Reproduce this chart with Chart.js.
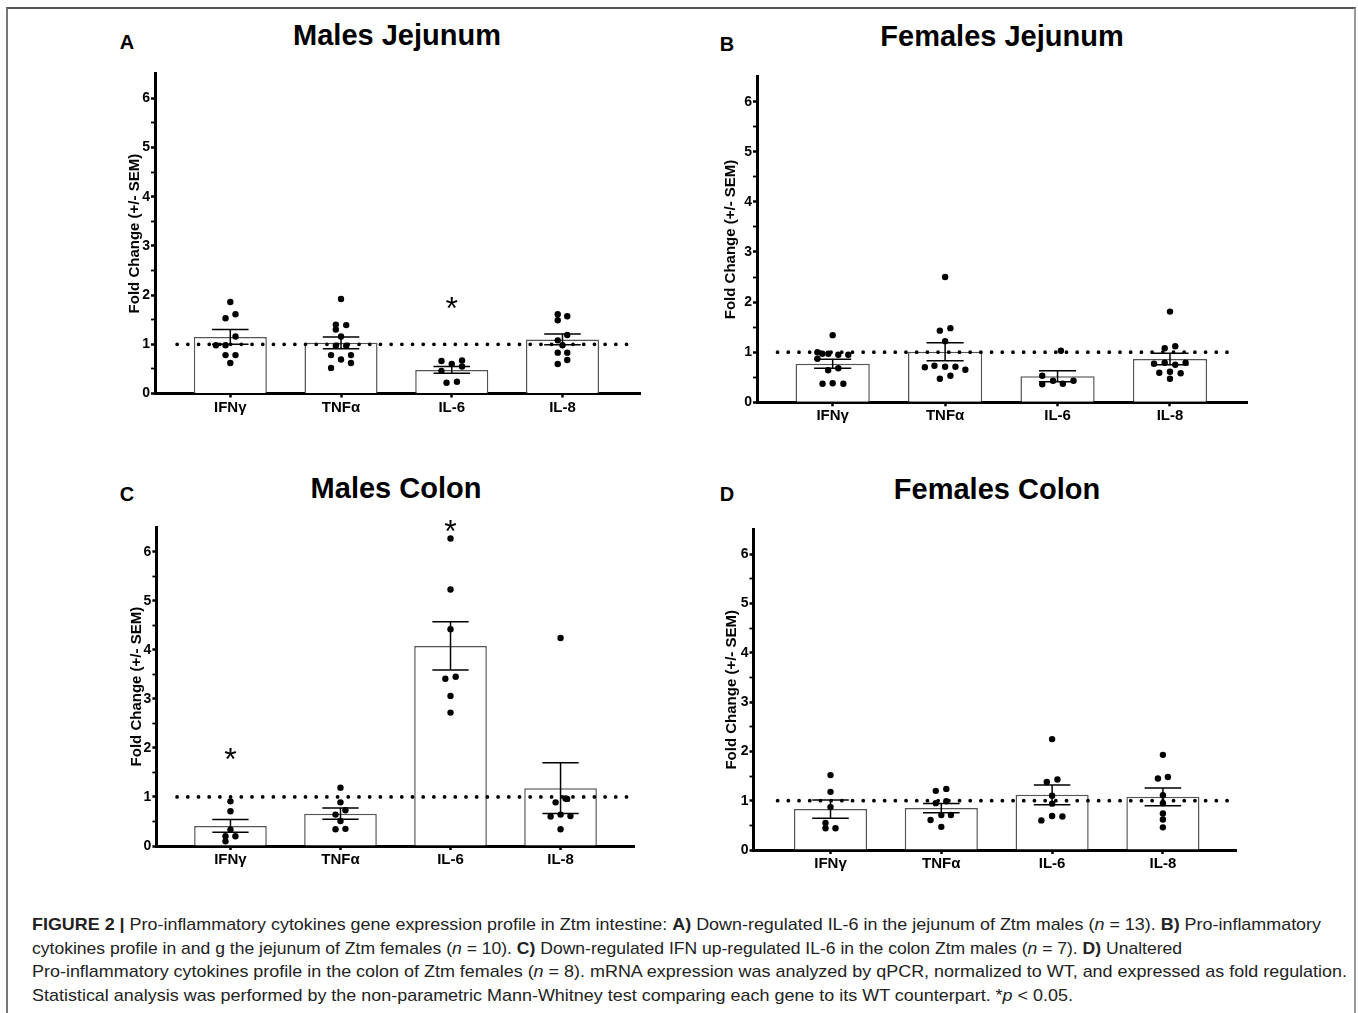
<!DOCTYPE html>
<html>
<head>
<meta charset="utf-8">
<title>Figure 2</title>
<script src="https://cdn.jsdelivr.net/npm/chart.js@4.4.0/dist/chart.umd.min.js"></script>
<style>
  body { margin: 0; background: #fff; width: 1358px; height: 1013px; overflow: hidden; position: relative;
         font-family: "Liberation Sans", Arial, sans-serif; }
  .frame { position: absolute; left: 6px; top: 7px; width: 1346px; height: 1030px;
           border-top: 2px solid #555; border-left: 2px solid #777; border-right: 2px solid #999; }
  canvas { position: absolute; }
  .title { position: absolute; font-size: 29px; line-height: 29px; font-weight: bold; white-space: nowrap;
           transform: translateX(-50%); color: #000; }
  .letter { position: absolute; font-size: 20px; line-height: 20px; font-weight: bold; transform: translateX(-50%); }
  .cap { position: absolute; left: 32px; font-size: 17px; line-height: 23.5px; white-space: nowrap; color: #222;
         font-family: "Liberation Sans Narrow", "Liberation Sans", Arial, sans-serif; transform-origin: 0 0; }
</style>
</head>
<body>
<div class="frame"></div>

<div class="letter" style="left:127px; top:32px;">A</div>
<div class="title" style="left:397px; top:21px;">Males Jejunum</div>
<div class="letter" style="left:727px; top:34px;">B</div>
<div class="title" style="left:1002px; top:22px;">Females Jejunum</div>
<div class="letter" style="left:127px; top:484px;">C</div>
<div class="title" style="left:396px; top:474px;">Males Colon</div>
<div class="letter" style="left:727px; top:484px;">D</div>
<div class="title" style="left:997px; top:475px;">Females Colon</div>

<canvas id="chartA"></canvas>
<canvas id="chartB"></canvas>
<canvas id="chartC"></canvas>
<canvas id="chartD"></canvas>

<div class="cap" id="cap1" data-w="1289" style="top:913px;"><b>FIGURE 2 |</b> Pro-inflammatory cytokines gene expression profile in Ztm intestine: <b>A)</b> Down-regulated IL-6 in the jejunum of Ztm males (<i>n</i> = 13). <b>B)</b> Pro-inflammatory</div>
<div class="cap" id="cap2" data-w="1150" style="top:937px;">cytokines profile in and g the jejunum of Ztm females (<i>n</i> = 10). <b>C)</b> Down-regulated IFN up-regulated IL-6 in the colon Ztm males (<i>n</i> = 7). <b>D)</b> Unaltered</div>
<div class="cap" id="cap3" data-w="1315" style="top:960px;">Pro-inflammatory cytokines profile in the colon of Ztm females (<i>n</i> = 8). mRNA expression was analyzed by qPCR, normalized to WT, and expressed as fold regulation.</div>
<div class="cap" id="cap4" data-w="1041" style="top:984px;">Statistical analysis was performed by the non-parametric Mann-Whitney test comparing each gene to its WT counterpart. *<i>p</i> &lt; 0.05.</div>

<script>
// genes on the x axis
const genes = ["IFNγ", "TNFα", "IL-6", "IL-8"];
const yMax = 6.5;

// A - males jejunum: bar mean, SEM, dots as [jitter, value]
const mjMean = [1.15, 1.03, 0.48, 1.10];
const mjSem = [0.15, 0.12, 0.07, 0.11];
const mjIFNg = [[0, 1.86], [0.047, 1.61], [-0.043, 1.53], [0.047, 1.16], [-0.043, 0.98], [-0.13, 0.98], [-0.043, 0.78], [0.047, 0.78], [0, 0.62]];
const mjTNFa = [[0, 1.92], [-0.047, 1.40], [0.047, 1.39], [-0.047, 1.30], [0, 1.16], [-0.047, 0.97], [0.047, 0.97], [-0.09, 0.78], [0.09, 0.78], [0, 0.69], [0.09, 0.62], [-0.09, 0.52]];
const mjIL6 = [[-0.093, 0.66], [0, 0.60], [0.093, 0.67], [-0.093, 0.46], [0.093, 0.55], [-0.047, 0.22], [0.047, 0.24]];
const mjIL8 = [[-0.043, 1.61], [0.043, 1.57], [-0.043, 1.49], [0.043, 1.19], [-0.043, 1.08], [0, 0.98], [-0.043, 0.83], [0.043, 0.83], [0.043, 0.68], [-0.043, 0.60]];
const mjStars = [[2, 1.88]];

// B - females jejunum
const fjMean = [0.77, 1.01, 0.52, 0.865];
const fjSem = [0.09, 0.18, 0.11, 0.115];
const fjIFNg = [[0, 1.34], [-0.136, 1.0], [-0.092, 0.97], [-0.038, 0.97], [0.05, 0.95], [0.139, 0.95], [-0.136, 0.87], [-0.04, 0.64], [0.05, 0.68], [-0.09, 0.37], [0, 0.38], [0.095, 0.37]];
const fjTNFa = [[0, 2.50], [-0.047, 1.43], [0.047, 1.48], [0, 1.22], [-0.18, 0.70], [-0.095, 0.73], [0, 0.71], [0.092, 0.71], [0.18, 0.65], [-0.047, 0.47], [0.047, 0.53]];
const fjIL6 = [[0.03, 1.03], [-0.136, 0.53], [-0.136, 0.36], [-0.04, 0.43], [0.047, 0.37], [0.142, 0.43]];
const fjIL8 = [[0, 1.81], [-0.047, 1.08], [0.047, 1.12], [-0.142, 0.77], [-0.047, 0.79], [0.047, 0.75], [0.139, 0.79], [-0.095, 0.59], [0, 0.61], [0.095, 0.58], [0, 0.47]];
const fjStars = [];

// C - males colon
const mcMean = [0.41, 0.66, 4.08, 1.18];
const mcSem = [0.13, 0.115, 0.49, 0.515];
const mcIFNg = [[0, 0.91], [0, 0.71], [0, 0.33], [-0.045, 0.20], [0.045, 0.20], [-0.045, 0.095]];
const mcTNFa = [[0, 1.19], [0, 0.89], [0.045, 0.73], [-0.045, 0.64], [0, 0.51], [-0.045, 0.34], [0.045, 0.35]];
const mcIL6 = [[0, 6.27], [0, 5.23], [0, 4.42], [-0.047, 3.41], [0.047, 3.45], [0, 3.06], [0, 2.72]];
const mcIL8 = [[0, 4.24], [-0.045, 0.89], [0.045, 0.97], [0.06, 0.96], [-0.09, 0.60], [0, 0.64], [0.09, 0.61], [0, 0.34]];
const mcStars = [[0, 1.91], [2, 6.56]];

// D - females colon
const fcMean = [0.83, 0.85, 1.12, 1.08];
const fcSem = [0.185, 0.095, 0.20, 0.18];
const fcIFNg = [[0, 1.52], [0, 1.18], [0, 0.87], [-0.045, 0.55], [-0.045, 0.44], [0.045, 0.44]];
const fcTNFa = [[-0.05, 1.20], [0.045, 1.24], [-0.05, 0.95], [0.045, 0.99], [-0.097, 0.61], [0, 0.71], [0.087, 0.71], [0, 0.47]];
const fcIL6 = [[0, 2.25], [-0.048, 1.38], [0.048, 1.43], [0, 1.10], [0, 0.94], [-0.097, 0.60], [0, 0.69], [0.093, 0.68]];
const fcIL8 = [[0, 1.93], [-0.045, 1.45], [0.045, 1.48], [0, 1.11], [0, 0.95], [0, 0.74], [0, 0.62], [0, 0.46]];
const fcStars = [];

// where each plot area sits on the page
const panels = [
  { id: "chartA", left: 155, right: 640, top: 73.7, bottom: 393.5, xMin: -0.68, xMax: 3.7, refFrom: -0.48, refTo: 3.62, titleGap: 20,
    mean: mjMean, sem: mjSem, points: [mjIFNg, mjTNFa, mjIL6, mjIL8], stars: mjStars },
  { id: "chartB", left: 757, right: 1247, top: 76.6, bottom: 402.3, xMin: -0.673, xMax: 3.685, refFrom: -0.49, refTo: 3.58, titleGap: 26,
    mean: fjMean, sem: fjSem, points: [fjIFNg, fjTNFa, fjIL6, fjIL8], stars: fjStars },
  { id: "chartC", left: 156.4, right: 634.6, top: 527.2, bottom: 846, xMin: -0.673, xMax: 3.673, refFrom: -0.485, refTo: 3.625, titleGap: 20,
    mean: mcMean, sem: mcSem, points: [mcIFNg, mcTNFa, mcIL6, mcIL8], stars: mcStars },
  { id: "chartD", left: 753.5, right: 1236.7, top: 529.6, bottom: 850, xMin: -0.695, xMax: 3.666, refFrom: -0.477, refTo: 3.58, titleGap: 22,
    mean: fcMean, sem: fcSem, points: [fcIFNg, fcTNFa, fcIL6, fcIL8], stars: fcStars },
];

Chart.defaults.font.family = '"Liberation Sans", Arial, sans-serif';
Chart.defaults.color = "#000";

// asterisks for significance, placed through the scales
const starPlugin = {
  id: "stars",
  afterDatasetsDraw(chart, args, opts) {
    const ctx = chart.ctx;
    const xs = chart.scales.x, ys = chart.scales.y;
    ctx.save();
    ctx.fillStyle = "#000";
    ctx.font = '32px "Liberation Sans"';
    ctx.textAlign = "center";
    ctx.textBaseline = "alphabetic";
    (opts.list || []).forEach(([i, v]) => {
      ctx.fillText("*", xs.getPixelForValue(i), ys.getPixelForValue(v) + 18);
    });
    ctx.restore();
  }
};

function errorBarData(mean, sem) {
  const cap = 0.165;
  const out = [];
  mean.forEach((m, i) => {
    const hi = m + sem[i], lo = m - sem[i];
    out.push({ x: i - cap, y: hi }, { x: i + cap, y: hi }, { x: i, y: null });
    out.push({ x: i, y: hi }, { x: i, y: lo }, { x: i, y: null });
    out.push({ x: i - cap, y: lo }, { x: i + cap, y: lo }, { x: i, y: null });
  });
  return out;
}

function makePanel(p) {
  const canvas = document.getElementById(p.id);
  const cl = Math.round(p.left - 40);
  const ct = Math.round(p.top - 26);
  const W = Math.round(p.right - cl + 8);
  const H = Math.round(p.bottom - ct + 34);
  canvas.style.left = cl + "px";
  canvas.style.top = ct + "px";
  canvas.width = W;
  canvas.height = H;
  canvas.style.width = W + "px";
  canvas.style.height = H + "px";

  const yAxisW = p.left - cl;
  const xAxisH = H - (p.bottom - ct);

  const dots = [];
  p.points.forEach((list, i) => list.forEach(([dx, v]) => dots.push({ x: i + dx, y: v })));

  new Chart(canvas.getContext("2d"), {
    type: "bar",
    data: {
      datasets: [
        {
          type: "scatter",
          data: dots,
          pointRadius: 3.2,
          pointBackgroundColor: "#000",
          pointBorderWidth: 0,
          order: 1,
        },
        {
          type: "line",
          data: errorBarData(p.mean, p.sem),
          borderColor: "#000",
          borderWidth: 1.5,
          pointRadius: 0,
          spanGaps: false,
          order: 2,
        },
        {
          type: "line",
          data: [{ x: p.refFrom, y: 1 }, { x: p.refTo, y: 1 }],
          borderColor: "#000",
          borderWidth: 3.8,
          borderDash: [0, 10.7],
          borderCapStyle: "round",
          pointRadius: 0,
          order: 3,
        },
        {
          type: "bar",
          data: p.mean.map((m, i) => ({ x: i, y: m })),
          backgroundColor: "#fff",
          borderColor: "#555",
          borderWidth: 1.5,
          barPercentage: 0.66,
          categoryPercentage: 1,
          order: 4,
        },
      ],
    },
    options: {
      responsive: false,
      animation: false,
      layout: { padding: { top: p.top - ct, right: W - (p.right - cl), left: 0, bottom: 0 } },
      plugins: {
        legend: { display: false },
        tooltip: { enabled: false },
        stars: { list: p.stars },
      },
      scales: {
        x: {
          type: "linear",
          min: p.xMin,
          max: p.xMax,
          offset: false,
          afterFit: (s) => { s.height = xAxisH; },
          afterBuildTicks: (s) => { s.ticks = genes.map((g, i) => ({ value: i })); },
          ticks: {
            autoSkip: false,
            maxRotation: 0,
            padding: 1,
            font: { size: 15, weight: "bold" },
            callback: (v) => genes[v] ?? "",
          },
          grid: { offset: false, drawOnChartArea: false, drawTicks: true, tickLength: 4, tickWidth: 2.5, tickColor: "#000" },
          border: { display: true, width: 3, color: "#000" },
        },
        y: {
          min: 0,
          max: yMax,
          afterFit: (s) => { s.width = yAxisW; },
          afterBuildTicks: (s) => {
            const t = [];
            for (let v = 0; v <= 6; v += 0.5) t.push({ value: v });
            s.ticks = t;
          },
          ticks: {
            padding: 1,
            font: { size: 14, weight: "bold" },
            callback: (v) => (Number.isInteger(v) ? v : ""),
          },
          grid: {
            drawOnChartArea: false,
            drawTicks: true,
            tickLength: 4,
            tickWidth: (c) => (c.tick && Number.isInteger(c.tick.value) ? 2.5 : 1.8),
            tickColor: "#000",
          },
          border: { display: true, width: 3, color: "#000" },
          title: {
            display: true,
            text: "Fold Change (+/- SEM)",
            font: { size: 15, weight: "bold" },
            padding: { top: Math.max(0, yAxisW - p.titleGap - 9), bottom: 0 },
          },
        },
      },
    },
    plugins: [starPlugin],
  });
}

panels.forEach(makePanel);

// stretch each caption line to the width it has in the figure
document.querySelectorAll(".cap").forEach((el) => {
  const target = Number(el.dataset.w);
  const w = el.getBoundingClientRect().width;
  el.style.transform = "scaleX(" + (target / w) + ")";
});
</script>
</body>
</html>
